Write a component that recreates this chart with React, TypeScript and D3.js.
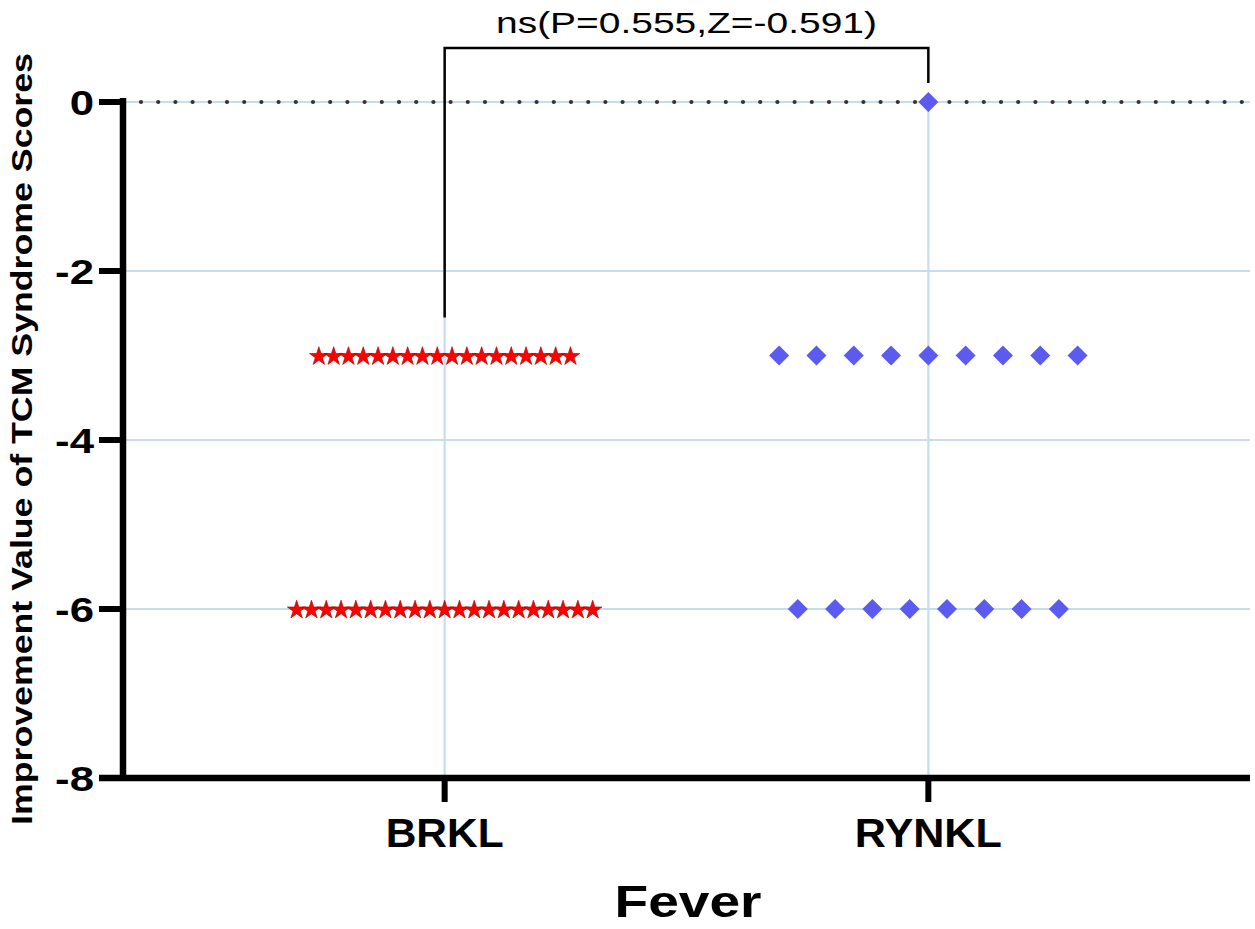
import React from "react";
import * as d3 from "d3";

const categories = ["BRKL", "RYNKL"];
const brklValues = [
  -3, -3, -3, -3, -3, -3, -3, -3, -3, -3, -3, -3, -3, -3, -3, -3, -3, -3,
  -6, -6, -6, -6, -6, -6, -6, -6, -6, -6, -6, -6, -6, -6, -6, -6, -6, -6, -6, -6, -6,
];
const ryklValues = [0, -3, -3, -3, -3, -3, -3, -3, -3, -3, -6, -6, -6, -6, -6, -6, -6, -6];
const yTicks = [0, -2, -4, -6, -8];
const yTickLabels = ["0", "-2", "-4", "-6", "-8"];
const statLabel = "ns(P=0.555,Z=-0.591)";
const xTitle = "Fever";
const yTitle = "Improvement Value of TCM Syndrome Scores";

const W = 1255;
const H = 929;
const FONT = "'Liberation Sans', Arial, Helvetica, sans-serif";

export default function App() {
  const left = 123;
  const right = 1250;
  const y = d3.scaleLinear().domain([-8, 0]).range([778, 102]);
  const x = d3.scalePoint<string>().domain(categories).range([left, right]).padding(0.665);

  const starPath = d3.symbol().type(d3.symbolStar).size(108)() as string;
  const diamondPath = d3.symbol().type(d3.symbolSquare).size(200)() as string;

  const spread = (vals: number[], spacing: number) => {
    const groups = d3.group(vals.map((v, i) => ({ v, i })), (d) => d.v);
    const out: { v: number; off: number }[] = [];
    groups.forEach((arr) => {
      const n = arr.length;
      arr.forEach((d, k) => out.push({ v: d.v, off: (k - (n - 1) / 2) * spacing }));
    });
    return out;
  };

  const brklPts = spread(brklValues, 14.8);
  const ryPts = spread(ryklValues, 37.3);
  const xb = x("BRKL")!;
  const xr = x("RYNKL")!;
  const grid = "#c6dcf0";

  return (
    <svg
      width={W}
      height={H}
      style={{ position: "absolute", left: 0, top: 0, background: "#fff" }}
      fontFamily={FONT}
    >
      {/* horizontal gridlines */}
      {yTicks.filter((t) => t !== -8).map((t) => (
        <line key={"g" + t} x1={left} x2={right} y1={y(t)} y2={y(t)} stroke={grid} strokeWidth={2.2} />
      ))}
      {/* vertical gridlines */}
      {categories.map((c) => (
        <line key={"v" + c} x1={x(c)} x2={x(c)} y1={y(0) - 3} y2={y(-8)} stroke={grid} strokeWidth={2.2} />
      ))}
      {/* dotted zero line */}
      <line
        x1={141}
        x2={right - 5}
        y1={y(0)}
        y2={y(0)}
        stroke="#333"
        strokeWidth={4.2}
        strokeLinecap="round"
        strokeDasharray="0 17.2"
      />

      {/* bracket */}
      <path
        d={`M${xb},${y(-2.55)} L${xb},48 L${xr},48 L${xr},${y(0) - 19}`}
        fill="none"
        stroke="#000"
        strokeWidth={2.5}
      />
      <text
        x={(xb + xr) / 2}
        y={33}
        fontSize={30}
        textAnchor="middle"
        textLength={381}
        lengthAdjust="spacingAndGlyphs"
      >
        {statLabel}
      </text>

      {/* points */}
      {brklPts.map((p, i) => (
        <path
          key={"s" + i}
          d={starPath}
          transform={`translate(${xb + p.off},${y(p.v) + 1})`}
          fill="#ff0000"
          stroke="#a00000"
          strokeWidth={0.6}
        />
      ))}
      {ryPts.map((p, i) => (
        <path
          key={"d" + i}
          d={diamondPath}
          transform={`translate(${xr + p.off},${y(p.v)}) rotate(45)`}
          fill="#5b5bef"
        />
      ))}

      {/* axes */}
      <line x1={left} x2={left} y1={y(0) - 4} y2={y(-8) + 3} stroke="#000" strokeWidth={6.5} />
      <line x1={99} x2={right} y1={y(-8)} y2={y(-8)} stroke="#000" strokeWidth={6.5} />
      {yTicks.map((t) => (
        <line key={"yt" + t} x1={99} x2={left} y1={y(t)} y2={y(t)} stroke="#000" strokeWidth={6} />
      ))}
      {categories.map((c) => (
        <line key={"xt" + c} x1={x(c)} x2={x(c)} y1={y(-8)} y2={y(-8) + 24} stroke="#000" strokeWidth={6} />
      ))}

      {/* y tick labels */}
      {yTicks.map((t, i) => (
        <g key={"yl" + t} transform={`translate(94,${y(t) + 13}) scale(1.25,1)`}>
          <text x={0} y={0} fontSize={35} fontWeight="bold" textAnchor="end">
            {yTickLabels[i]}
          </text>
        </g>
      ))}

      {/* x tick labels */}
      {categories.map((c) => (
        <text
          key={"xl" + c}
          x={x(c)}
          y={847}
          fontSize={40}
          fontWeight="bold"
          textAnchor="middle"
          textLength={c === "BRKL" ? 118 : 147}
          lengthAdjust="spacingAndGlyphs"
        >
          {c}
        </text>
      ))}

      {/* axis titles */}
      <text
        x={688}
        y={917}
        fontSize={44}
        fontWeight="bold"
        textAnchor="middle"
        textLength={147}
        lengthAdjust="spacingAndGlyphs"
      >
        {xTitle}
      </text>
      <text
        transform={`translate(32,439) rotate(-90)`}
        fontSize={30}
        fontWeight="bold"
        textAnchor="middle"
        textLength={772}
        lengthAdjust="spacingAndGlyphs"
      >
        {yTitle}
      </text>
    </svg>
  );
}
